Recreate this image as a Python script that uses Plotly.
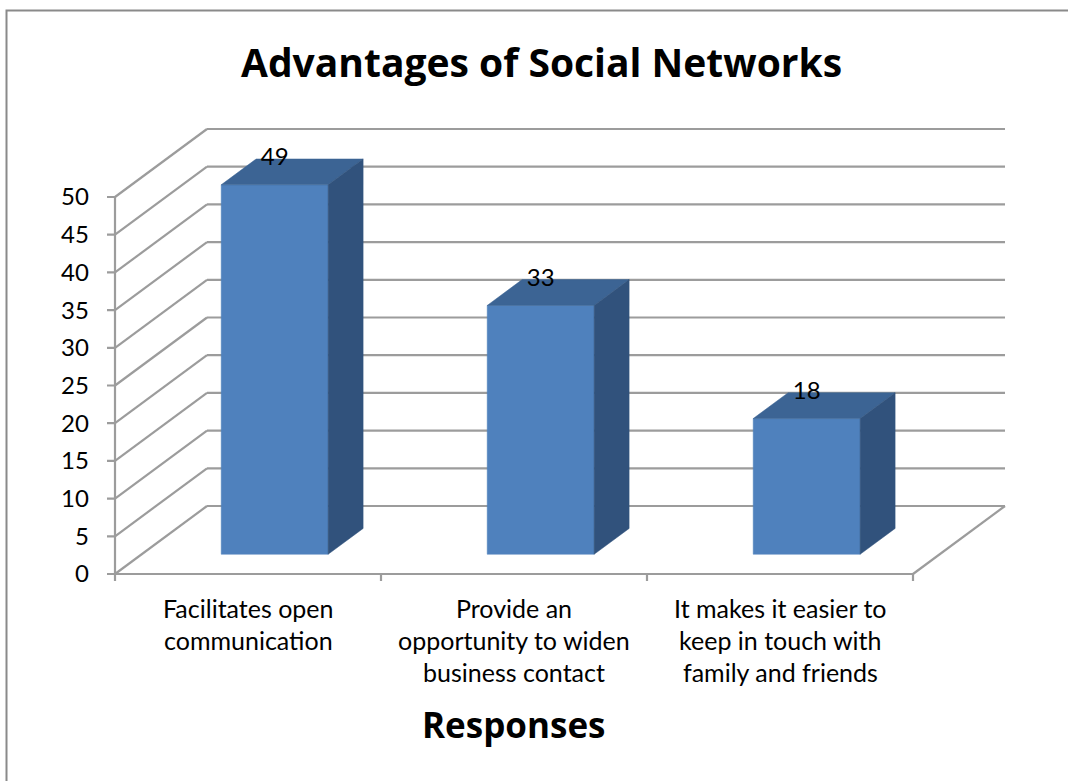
import plotly.graph_objects as go

# ---- data ----
categories = ["Facilitates open communication",
              "Provide an opportunity to widen business contact",
              "It makes it easier to keep in touch with family and friends"]
category_lines = [["Facilitates open", "communication"],
                  ["Provide an", "opportunity to widen", "business contact"],
                  ["It makes it easier to", "keep in touch with", "family and friends"]]
values = [49, 33, 18]
y_ticks = [0, 5, 10, 15, 20, 25, 30, 35, 40, 45, 50]
title_text = "Advantages of Social Networks"
x_title = "Responses"

# ---- geometry / style (pixel scale of the 3D projection) ----
W, H = 1068, 781
U = 266.0      # px per category
V = 7.54       # px per value unit
ORIG = (115.0, 574.0)  # pixel of (0,0) on the front plane
DEPTH_PX = (92.0, 68.0)
dx = DEPTH_PX[0] / U
dy = DEPTH_PX[1] / V
f1 = 0.29     # bar front depth fraction
fd = 0.38     # bar depth fraction
bw = 0.402    # bar width in category units

xr = [-0.05, 3.42]
yr = [-1.4, 61.0]
xpix = [ORIG[0] + xr[0] * U, ORIG[0] + xr[1] * U]
ypix = [ORIG[1] - yr[0] * V, ORIG[1] - yr[1] * V]

GRID = "#9c9c9c"
FRONT = "#4F81BD"
TOP = "#3C6494"
SIDE = "#31527C"
FONT = "Lato"
TFONT = "Open Sans"

fig = go.Figure()

def line(xs, ys, color=GRID, width=2.2):
    fig.add_trace(go.Scatter(x=xs, y=ys, mode="lines", line=dict(color=color, width=width),
                             hoverinfo="skip", showlegend=False))

ncat = len(values)
# back wall gridlines and left wall diagonals
for v in y_ticks:
    line([dx, ncat + dx], [v + dy, v + dy])
    line([0, dx], [v, v + dy])
# floor front edge and right edge
line([0, ncat], [0, 0])
line([ncat, ncat + dx], [0, dy])
# front value axis and its tick marks
line([0, 0], [0, y_ticks[-1]])
for v in y_ticks:
    line([-8 / U, 0], [v, v])
# category tick marks
for i in range(ncat + 1):
    line([i, i], [0, -7 / V])

# bars
for i, val in enumerate(values):
    xl = i + 0.5 - bw / 2 + f1 * dx
    xrr = i + 0.5 + bw / 2 + f1 * dx
    yb = f1 * dy
    yt = yb + val
    ddx, ddy = fd * dx, fd * dy
    fig.add_trace(go.Scatter(x=[xl, xrr, xrr, xl, xl], y=[yb, yb, yt, yt, yb], fill="toself",
                             fillcolor=FRONT, mode="lines", line=dict(color=FRONT, width=0.5),
                             hoverinfo="skip", showlegend=False))
    fig.add_trace(go.Scatter(x=[xl, xrr, xrr + ddx, xl + ddx, xl], y=[yt, yt, yt + ddy, yt + ddy, yt],
                             fill="toself", fillcolor=TOP, mode="lines", line=dict(color=TOP, width=0.5),
                             hoverinfo="skip", showlegend=False))
    fig.add_trace(go.Scatter(x=[xrr, xrr + ddx, xrr + ddx, xrr, xrr], y=[yb, yb + ddy, yt + ddy, yt, yb],
                             fill="toself", fillcolor=SIDE, mode="lines", line=dict(color=SIDE, width=0.5),
                             hoverinfo="skip", showlegend=False))

# value labels
fig.add_trace(go.Scatter(
    x=[i + 0.5 + f1 * dx for i in range(ncat)],
    y=[f1 * dy + v + fd * dy for v in values],
    mode="text", text=[str(v) for v in values], textposition="middle center",
    textfont=dict(family=FONT, size=24, color="black"), hoverinfo="skip", showlegend=False))

annotations = []
for i, lines in enumerate(category_lines):
    for j, t in enumerate(lines):
        annotations.append(dict(x=i + 0.5, y=0, xref="x", yref="y", text=t, showarrow=False,
                                yshift=-34 - 32 * j, xanchor="center", yanchor="middle",
                                font=dict(family=FONT, size=25, color="black")))
annotations.append(dict(x=541 / W, y=1 - 62 / H, xref="paper", yref="paper", text="<b>" + title_text + "</b>",
                        showarrow=False, xanchor="center", yanchor="middle",
                        font=dict(family=TFONT, size=39, color="black")))
annotations.append(dict(x=513 / W, y=1 - 724 / H, xref="paper", yref="paper", text="<b>" + x_title + "</b>",
                        showarrow=False, xanchor="center", yanchor="middle",
                        font=dict(family=TFONT, size=35, color="black")))

fig.update_layout(
    width=W, height=H, margin=dict(l=0, r=0, t=0, b=0),
    paper_bgcolor="white", plot_bgcolor="rgba(0,0,0,0)",
    showlegend=False,
    xaxis=dict(range=xr, domain=[xpix[0] / W, xpix[1] / W], showgrid=False, zeroline=False,
               showline=False, showticklabels=False, ticks="", automargin=False, fixedrange=True),
    yaxis=dict(range=yr, domain=[1 - ypix[0] / H, 1 - ypix[1] / H], showgrid=False, zeroline=False,
               showline=False, tickmode="array", tickvals=y_ticks, ticktext=[str(t) for t in y_ticks],
               ticks="outside", ticklen=7, tickcolor="rgba(0,0,0,0)",
               tickfont=dict(family=FONT, size=24, color="black"), automargin=False, fixedrange=True),
    annotations=annotations,
    shapes=[dict(type="rect", xref="paper", yref="paper", x0=6.5 / W, y0=-0.1, x1=1.1, y1=1 - 10.5 / H,
                 line=dict(color="#8a8a8a", width=2), fillcolor="rgba(0,0,0,0)", layer="below")],
)

fig.write_html("out.html", config={"displayModeBar": False},
               post_script="document.body.style.margin='0';")
